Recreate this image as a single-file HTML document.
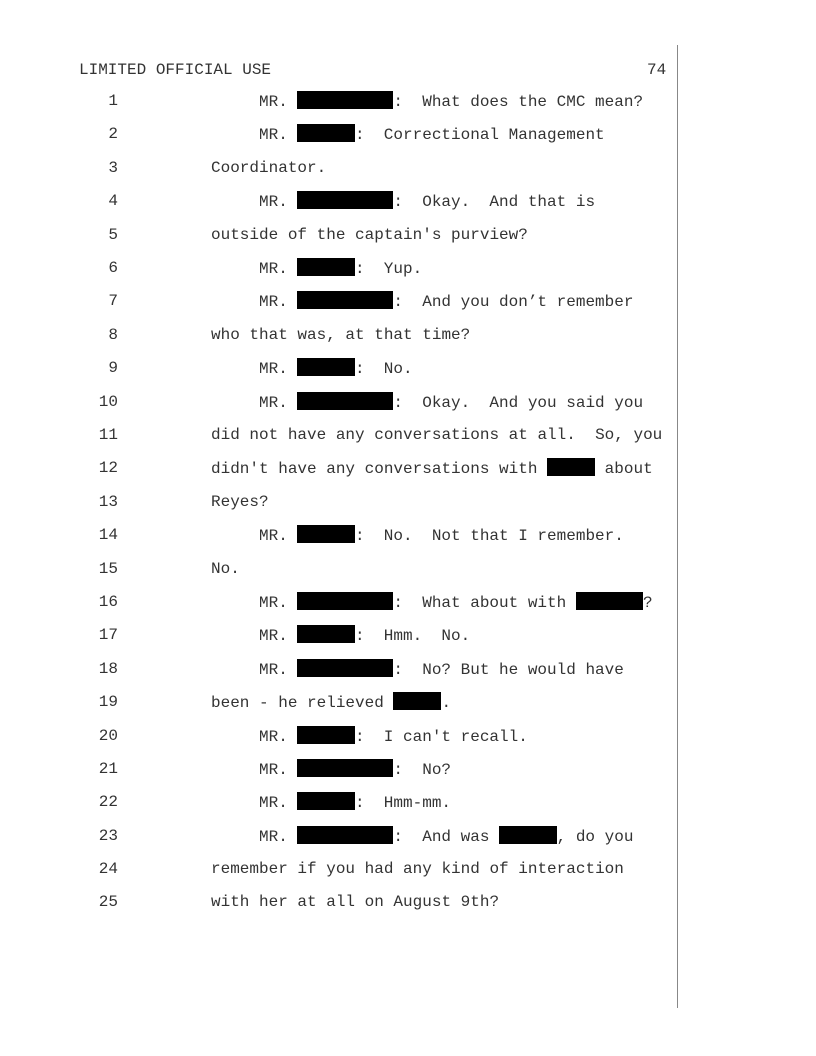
<!DOCTYPE html>
<html><head><meta charset="utf-8"><style>
body{margin:0;background:#fff;width:816px;height:1056px;position:relative;overflow:hidden;font-family:"Liberation Mono",monospace;font-size:16px;color:#333}
.l{position:absolute;height:20px;line-height:20px;white-space:pre}
.n{position:absolute;width:40px;text-align:right;left:78px;height:20px;line-height:20px}
.r{display:inline-block;background:#000;height:18px;vertical-align:-3px}
.vl{position:absolute;left:677px;top:45px;width:1px;height:963px;background:#888}
</style></head><body>
<div class="vl"></div>
<div class="l" style="left:79px;top:60px">LIMITED OFFICIAL USE</div>
<div class="l" style="left:647px;top:60px">74</div>

<div class="n" style="top:91px">1</div><div class="l" style="left:259px;top:91px">MR. <span class="r" style="width:96px"></span>:  What does the CMC mean?</div>
<div class="n" style="top:124px">2</div><div class="l" style="left:259px;top:124px">MR. <span class="r" style="width:57.6px"></span>:  Correctional Management</div>
<div class="n" style="top:158px">3</div><div class="l" style="left:211px;top:158px">Coordinator.</div>
<div class="n" style="top:191px">4</div><div class="l" style="left:259px;top:191px">MR. <span class="r" style="width:96px"></span>:  Okay.  And that is</div>
<div class="n" style="top:225px">5</div><div class="l" style="left:211px;top:225px">outside of the captain's purview?</div>
<div class="n" style="top:258px">6</div><div class="l" style="left:259px;top:258px">MR. <span class="r" style="width:57.6px"></span>:  Yup.</div>
<div class="n" style="top:291px">7</div><div class="l" style="left:259px;top:291px">MR. <span class="r" style="width:96px"></span>:  And you don’t remember</div>
<div class="n" style="top:325px">8</div><div class="l" style="left:211px;top:325px">who that was, at that time?</div>
<div class="n" style="top:358px">9</div><div class="l" style="left:259px;top:358px">MR. <span class="r" style="width:57.6px"></span>:  No.</div>
<div class="n" style="top:392px">10</div><div class="l" style="left:259px;top:392px">MR. <span class="r" style="width:96px"></span>:  Okay.  And you said you</div>
<div class="n" style="top:425px">11</div><div class="l" style="left:211px;top:425px">did not have any conversations at all.  So, you</div>
<div class="n" style="top:458px">12</div><div class="l" style="left:211px;top:458px">didn't have any conversations with <span class="r" style="width:48px"></span> about</div>
<div class="n" style="top:492px">13</div><div class="l" style="left:211px;top:492px">Reyes?</div>
<div class="n" style="top:525px">14</div><div class="l" style="left:259px;top:525px">MR. <span class="r" style="width:57.6px"></span>:  No.  Not that I remember.</div>
<div class="n" style="top:559px">15</div><div class="l" style="left:211px;top:559px">No.</div>
<div class="n" style="top:592px">16</div><div class="l" style="left:259px;top:592px">MR. <span class="r" style="width:96px"></span>:  What about with <span class="r" style="width:67.2px"></span>?</div>
<div class="n" style="top:625px">17</div><div class="l" style="left:259px;top:625px">MR. <span class="r" style="width:57.6px"></span>:  Hmm.  No.</div>
<div class="n" style="top:659px">18</div><div class="l" style="left:259px;top:659px">MR. <span class="r" style="width:96px"></span>:  No? But he would have</div>
<div class="n" style="top:692px">19</div><div class="l" style="left:211px;top:692px">been - he relieved <span class="r" style="width:48px"></span>.</div>
<div class="n" style="top:726px">20</div><div class="l" style="left:259px;top:726px">MR. <span class="r" style="width:57.6px"></span>:  I can't recall.</div>
<div class="n" style="top:759px">21</div><div class="l" style="left:259px;top:759px">MR. <span class="r" style="width:96px"></span>:  No?</div>
<div class="n" style="top:792px">22</div><div class="l" style="left:259px;top:792px">MR. <span class="r" style="width:57.6px"></span>:  Hmm-mm.</div>
<div class="n" style="top:826px">23</div><div class="l" style="left:259px;top:826px">MR. <span class="r" style="width:96px"></span>:  And was <span class="r" style="width:57.6px"></span>, do you</div>
<div class="n" style="top:859px">24</div><div class="l" style="left:211px;top:859px">remember if you had any kind of interaction</div>
<div class="n" style="top:892px">25</div><div class="l" style="left:211px;top:892px">with her at all on August 9th?</div>
</body></html>
